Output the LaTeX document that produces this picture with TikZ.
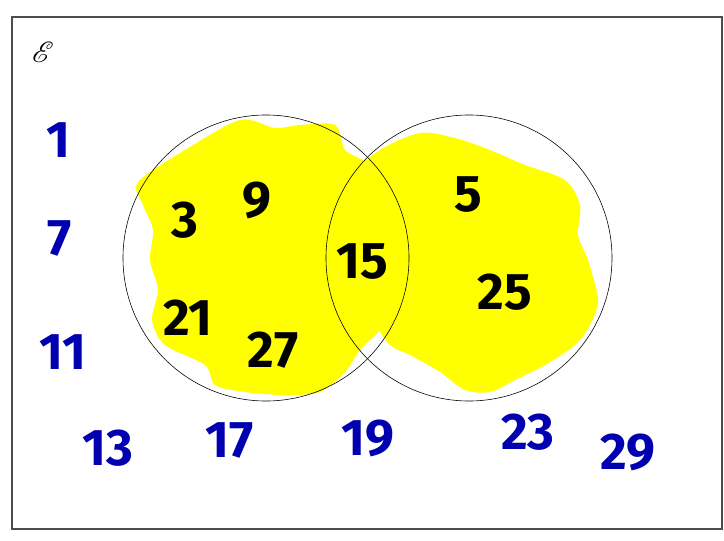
\documentclass[tikz,border=0pt]{standalone}
\usepackage{fontspec}
\usepackage{amsmath, amssymb}
\usepackage{mathrsfs}
\usepackage{tikz}
\usetikzlibrary{positioning}
\newfontfamily\hand{Fira Sans}
\definecolor{hiyellow}{RGB}{255,255,0}
\definecolor{penblue}{RGB}{0,0,176}

\begin{document}
\begin{tikzpicture}[x=0.03cm, y=-0.03cm,
    setcircle/.style={circle, draw, line width=0.5pt, minimum size=8.58cm, inner sep=0pt},
    inside/.style={font=\hand\bfseries\fontsize{44}{44}\selectfont, text=black},
    outside/.style={font=\hand\bfseries\fontsize{44}{44}\selectfont, text=penblue}]
        \useasboundingbox (0,0) rectangle (724,541);
        \draw[black!70, line width=1pt] (12,17) rectangle (722,529);
        \node (uni) at (43,52) {\fontsize{28}{28}\selectfont$\mathscr{E}$};

        % highlighter
        \fill[hiyellow] plot[smooth cycle] coordinates {(138,182) (185,150) (240,120) (275,128) (300,125) (335,125) (345,150) (365,162) (372,180) (385,200) (395,230) (402,265) (395,300) (380,330) (360,350) (345,372) (320,392) (285,395) (245,392) (215,385) (205,365) (165,345) (152,320) (158,290) (150,260) (153,230) (143,205)};
        \fill[hiyellow] plot[smooth cycle] coordinates {(345,180) (380,150) (420,133) (455,138) (490,150) (525,165) (565,180) (580,205) (578,235) (588,260) (598,300) (590,325) (575,345) (545,365) (515,380) (490,392) (465,390) (440,372) (410,355) (390,345) (375,320) (385,290) (375,260) (365,230) (355,205)};

        \node[setcircle] (A) at (266,258) {};
        \node[setcircle] (B) at (469,258) {};

        \node[inside] (n3) at (185,220) {3};
        \node[inside] (n9) at (257,200) {9};
        \node[inside] (n21) at (188,318) {21};
        \node[inside] (n27) at (273,350) {27};
        \node[inside] (n15) at (362,262) {15};
        \node[inside] (n5) at (468,195) {5};
        \node[inside] (n25) at (505,292) {25};

        \node[outside] (n1) at (58,140) {1};
        \node[outside] (n7) at (60,238) {7};
        \node[outside] (n11) at (63,352) {11};
        \node[outside] (n13) at (108,448) {13};
        \node[outside] (n17) at (230,440) {17};
        \node[outside] (n19) at (368,438) {19};
        \node[outside] (n23) at (528,432) {23};
        \node[outside] (n29) at (628,452) {29};
\end{tikzpicture}
\end{document}
